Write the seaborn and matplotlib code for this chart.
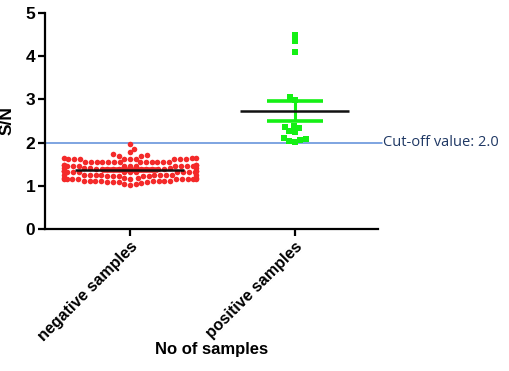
import numpy as np
import pandas as pd
import matplotlib.pyplot as plt
import seaborn as sns

# S/N values
negative_values = [
    1.97, 1.85, 1.77, 1.73, 1.72, 1.69, 1.68,
    1.62, 1.63, 1.64, 1.63, 1.62, 1.63, 1.64, 1.63, 1.62, 1.63, 1.64, 1.63,
    1.55, 1.54, 1.56, 1.55, 1.54, 1.56, 1.55, 1.54, 1.56, 1.55, 1.54, 1.56, 1.55,
    1.46, 1.45, 1.47, 1.46, 1.45, 1.47, 1.46, 1.45, 1.47, 1.46, 1.45, 1.47, 1.46, 1.45,
    1.39, 1.38, 1.40, 1.39, 1.38, 1.40, 1.39, 1.38, 1.40, 1.39, 1.38, 1.40, 1.39, 1.38, 1.40,
    1.32, 1.31, 1.33, 1.32, 1.31, 1.33, 1.32, 1.31, 1.33, 1.32, 1.31, 1.33, 1.32, 1.31, 1.33,
    1.24, 1.23, 1.25, 1.24, 1.23, 1.25, 1.24, 1.23, 1.25, 1.24, 1.23, 1.25, 1.24, 1.23, 1.25,
    1.16, 1.15, 1.17, 1.16, 1.15, 1.17, 1.16, 1.15, 1.17, 1.16, 1.15, 1.17, 1.16, 1.15,
    1.10, 1.09, 1.11, 1.10, 1.09, 1.11, 1.10, 1.09, 1.11, 1.10, 1.09, 1.11,
    1.05, 1.06, 1.04, 1.02,
]
positive_values = [4.50, 4.34, 4.10, 3.05, 2.98, 2.38, 2.35, 2.34, 2.26, 2.25,
                   2.11, 2.08, 2.06, 2.04, 2.01]

categories = ["negative samples", "positive samples"]
colors = ["#F42A2A", "#14F014"]
markers = ["o", "s"]
cutoff = 2.0
cutoff_label = "Cut-off value: 2.0"

df = pd.DataFrame({
    "group": [categories[0]] * len(negative_values) + [categories[1]] * len(positive_values),
    "sn": negative_values + positive_values,
})

sns.set_style("ticks", {"text.color": "black", "axes.labelcolor": "black",
                        "xtick.color": "black", "ytick.color": "black"})
plt.rcParams["font.family"] = ["Liberation Sans", "DejaVu Sans"]

fig = plt.figure(figsize=(5.1, 3.71), dpi=100)
ax = fig.add_axes([0.088, 0.383, 0.653, 0.582])

# Scatter of each group
for cat, col, mk in zip(categories, colors, markers):
    sns.swarmplot(data=df[df["group"] == cat], x="group", y="sn", order=categories,
                  color=col, marker=mk, size=4.0, linewidth=0,
                  warn_thresh=1, ax=ax, zorder=2)

# Mean lines and SEM error bars
for i, cat in enumerate(categories):
    vals = df.loc[df["group"] == cat, "sn"].to_numpy()
    m = vals.mean()
    sem = vals.std(ddof=1) / np.sqrt(len(vals))
    ax.hlines(m, i - 0.33, i + 0.33, color="#111111", lw=1.8, zorder=5)
    ax.errorbar(i, m, yerr=sem, color=colors[i], capsize=0, lw=2.2, zorder=4)
    ax.hlines([m - sem, m + sem], i - 0.17, i + 0.17, color=colors[i], lw=2.6, zorder=4)

# Cut-off line and label
ax.axhline(cutoff, xmin=0, xmax=1.012, color="#5B8BD9", lw=1.1, clip_on=False, zorder=1)
ax.text(1.015, cutoff, cutoff_label, transform=ax.get_yaxis_transform(),
        va="center", ha="left", fontsize=10.5, color="#1F3864",
        family=["Open Sans", "DejaVu Sans"])

ax.set_xlim(-0.515, 1.503)
ax.set_ylim(0, 5)
ax.set_yticks([0, 1, 2, 3, 4, 5])
ax.set_ylabel("S/N", fontsize=12.5, fontweight="bold", labelpad=8)
ax.set_xlabel("No of samples", fontsize=12, fontweight="bold", labelpad=-1)
ax.set_xticks([0, 1])
ax.set_xticklabels(categories, rotation=45, ha="right", rotation_mode="anchor",
                   fontsize=11.5, fontweight="bold")
for lab in ax.get_yticklabels():
    lab.set_fontweight("bold")
    lab.set_fontsize(12.5)

sns.despine(ax=ax)
for sp in ["left", "bottom"]:
    ax.spines[sp].set_linewidth(1.6)
    ax.spines[sp].set_color("black")
ax.tick_params(axis="both", width=1.6, length=5, color="black", pad=2)

plt.savefig("out.png", dpi=100)
